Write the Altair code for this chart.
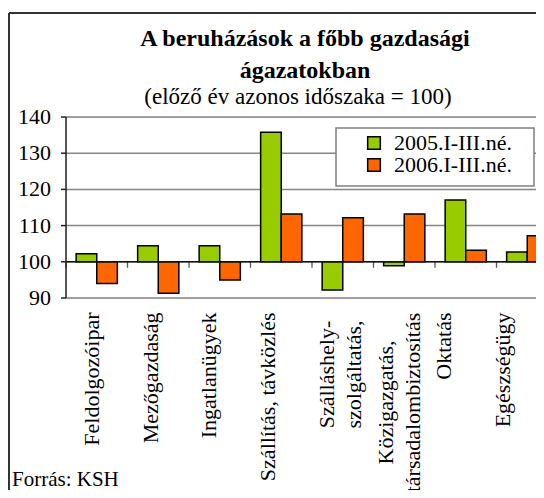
import altair as alt
import pandas as pd

categories = [
    "Feldolgozóipar",
    "Mezőgazdaság",
    "Ingatlanügyek",
    "Szállítás,  távközlés",
    "Szálláshely-\nszolgáltatás,",
    "Közigazgatás,\ntársadalombiztosítás",
    "Oktatás",
    "Egészségügy",
]
series = ["2005.I-III.né.", "2006.I-III.né."]
v2005 = [102.2, 104.4, 104.4, 135.8, 92.2, 98.9, 117.1, 102.7]
v2006 = [94.0, 91.3, 95.0, 113.2, 112.2, 113.2, 103.2, 107.2]
colors = ["#99CC00", "#FF6600"]
y_ticks = [90, 100, 110, 120, 130, 140]
title_lines = ["A beruházások a főbb gazdasági", "ágazatokban"]
subtitle = "(előző év azonos időszaka = 100)"
source_note = "Forrás: KSH"

rows = []
for c, a, b in zip(categories, v2005, v2006):
    rows.append({"cat": c, "series": series[0], "value": a})
    rows.append({"cat": c, "series": series[1], "value": b})
df = pd.DataFrame(rows)
cat_df = pd.DataFrame({"cat": categories})
tick_df = pd.DataFrame({"t": y_ticks})

FONT = "Times New Roman, Liberation Serif, serif"

yscale = alt.Scale(domain=[90, 140], nice=False, zero=False)

label_align = {"condition": {"test": "indexof(datum.value, '\\n') >= 0", "value": "center"}, "value": "right"}
label_pad = {
    "condition": [
        {"test": "indexof(datum.value, 'Száll') == 0 && indexof(datum.value, '\\n') >= 0", "value": 76},
        {"test": "indexof(datum.value, 'Közig') == 0", "value": 104},
    ],
    "value": 14,
}

x_label_axis = alt.Axis(
    title=None,
    orient="bottom",
    labelAngle=270,
    labelAlign=label_align,
    labelBaseline="middle",
    labelPadding=label_pad,
    labelExpr="split(datum.label, '\\n')",
    labelFont=FONT,
    labelFontSize=22,
    labelLineHeight=27,
    labelColor="black",
    labelLimit=400,
    labelOverlap=False,
    domain=False,
    ticks=False,
    grid=False,
)

# gridlines (drawn from the tick values through the y scale)
grid = alt.Chart(tick_df).mark_rule(color="#858585", strokeWidth=1.5).encode(
    y=alt.Y("t:Q", scale=yscale, axis=None)
)
y_labels = alt.Chart(tick_df).mark_text(
    align="right", baseline="middle", font=FONT, fontSize=22, color="black"
).encode(y=alt.Y("t:Q", scale=yscale, axis=None), x=alt.value(-15), text="t:Q")
y_tickmarks = alt.Chart(tick_df).mark_rule(color="#222222", strokeWidth=1.5).encode(
    y=alt.Y("t:Q", scale=yscale, axis=None), x=alt.value(-5), x2=alt.value(0)
)
y_domain = alt.Chart(alt.Data(values=[{"k": 1}])).mark_rule(color="#222222", strokeWidth=1.5).encode(
    x=alt.value(0), y=alt.YDatum(140, axis=None), y2=alt.datum(90)
)

bars = alt.Chart(df).mark_bar(stroke="black", strokeWidth=1.5, clip=True).encode(
    x=alt.X(
        "cat:N",
        scale=alt.Scale(domain=categories, range=[0, 492], paddingInner=0.33, paddingOuter=0.165),
        sort=categories,
        axis=None,
    ),
    xOffset=alt.XOffset("series:N", sort=series),
    y=alt.Y("value:Q", scale=yscale, axis=None),
    y2=alt.datum(100),
    color=alt.Color(
        "series:N",
        sort=series,
        scale=alt.Scale(domain=series, range=colors),
        legend=alt.Legend(
            title=None,
            orient="none",
            legendX=297,
            legendY=15,
            padding=0,
            symbolType="square",
            symbolSize=160,
            symbolStrokeColor="black",
            symbolStrokeWidth=1.5,
            labelOffset=9,
            labelFont=FONT,
            labelFontSize=22,
            labelColor="black",
            rowPadding=0,
        ),
    ),
)

axis_layer = alt.Chart(cat_df).mark_point(opacity=0).encode(
    x=alt.X(
        "cat:N",
        sort=categories,
        scale=alt.Scale(domain=categories, range=[-4, 466], paddingInner=0, paddingOuter=0),
        axis=x_label_axis,
    ),
    y=alt.YDatum(100, axis=None),
)

one = alt.Data(values=[{"k": 1}])

legend_box = alt.Chart(one).mark_rect(fill="white", stroke="#808080", strokeWidth=1.5).encode(
    x=alt.value(270), x2=alt.value(468), y=alt.value(11), y2=alt.value(69)
)

base_line = alt.Chart(one).mark_rule(color="#111111", strokeWidth=1.5).encode(
    y=alt.YDatum(100, axis=None)
)

ticks = alt.Chart(cat_df).mark_tick(
    orient="vertical", size=6, thickness=1.3, color="#111111", yOffset=3
).encode(
    x=alt.X(
        "cat:N",
        sort=categories,
        bandPosition=0,
        scale=alt.Scale(domain=categories, range=[0, 492], paddingInner=0, paddingOuter=0),
        axis=None,
    ),
    y=alt.YDatum(100, axis=None),
)

frame_left = alt.Chart(one).mark_rule(color="#333333", strokeWidth=2).encode(
    x=alt.value(-57), y=alt.value(-104), y2=alt.value(420)
)
frame_top = alt.Chart(one).mark_rule(color="#333333", strokeWidth=2).encode(
    x=alt.value(-57), x2=alt.value(520), y=alt.value(-104)
)
source = alt.Chart(one).mark_text(
    align="left", baseline="alphabetic", font=FONT, fontSize=21, color="black"
).encode(x=alt.value(-54), y=alt.value(369), text=alt.value(source_note))

t1 = alt.Chart(one).mark_text(
    align="center", baseline="alphabetic", font=FONT, fontSize=24, fontWeight="bold", color="black"
).encode(x=alt.value(239), y=alt.value(-71), text=alt.value(title_lines[0]))
t2 = alt.Chart(one).mark_text(
    align="center", baseline="alphabetic", font=FONT, fontSize=24, fontWeight="bold", color="black"
).encode(x=alt.value(239), y=alt.value(-39), text=alt.value(title_lines[1]))
t3 = alt.Chart(one).mark_text(
    align="center", baseline="alphabetic", font=FONT, fontSize=23, color="black"
).encode(x=alt.value(232), y=alt.value(-13), text=alt.value(subtitle))

chart = (
    alt.layer(
        grid, axis_layer, bars, legend_box, base_line, ticks,
        y_domain, y_tickmarks, y_labels,
        frame_left, frame_top, source, t1, t2, t3,
    )
    .resolve_scale(x="independent")
    .properties(
        width=470,
        height=181,
        padding={"left": 58, "top": 109, "right": 0, "bottom": 192},
        autosize=alt.AutoSizeParams(type="none"),
    )
    .configure_view(stroke=None)
    .configure(background="white")
)

chart.save("out.html", embed_options={"renderer": "svg", "actions": False})
